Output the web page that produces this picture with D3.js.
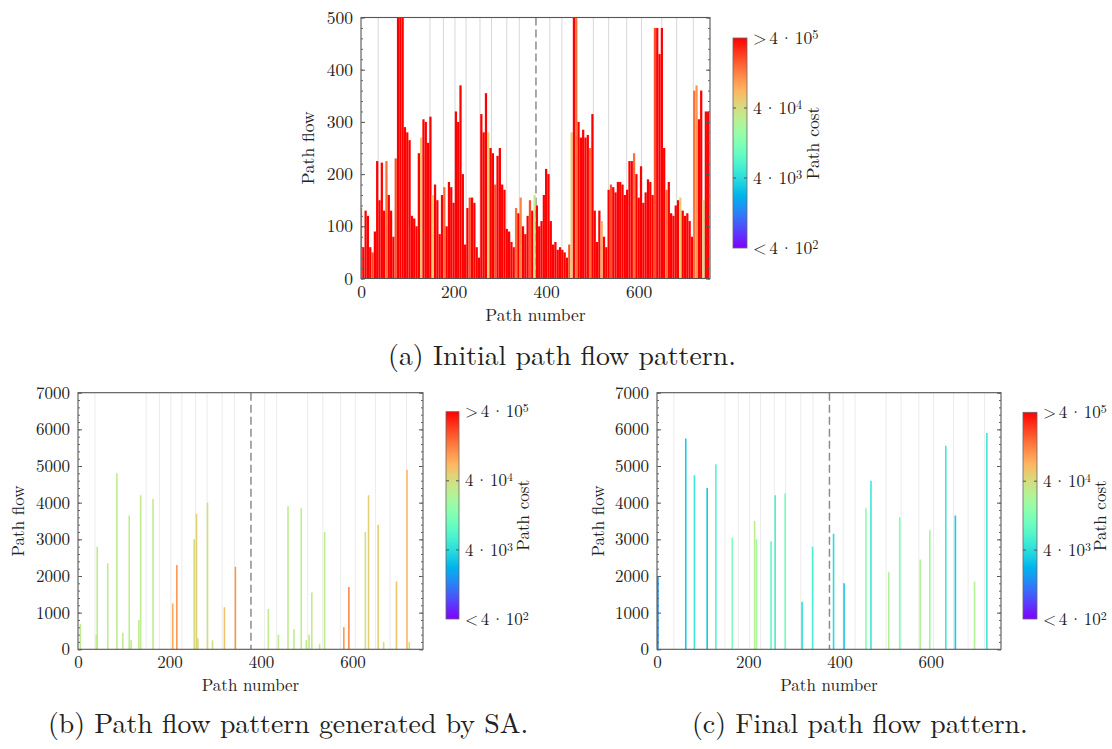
<!DOCTYPE html>
<html><head><meta charset="utf-8">
<script src="https://cdn.jsdelivr.net/npm/d3@7"></script>
<style>
body{margin:0;background:#fff}
svg{display:block}
</style>
</head><body>
<svg id="chart" width="1112" height="749"></svg>
<script>
// ---------------- DATA ----------------
const pathDomain = [0, 754];
const pathTicks = [0, 200, 400, 600];
const gridPaths = [37,149,178,203,227,257,282,315,342,408,434,502,535,574,606,650,682,718];
const splitPath = 378;

// (a) initial pattern: one value per 5-path bin
const binA = 5;
const flowA = [
135,60,130,120,60,50,90,225,150,222,
130,225,160,130,80,230,500,500,500,290,
280,265,120,115,100,240,270,305,300,260,
310,160,180,150,85,160,175,100,185,175,
145,320,300,370,200,65,135,155,155,145,
60,40,315,280,355,280,250,240,180,235,
250,180,170,95,90,70,60,135,125,155,
100,85,120,150,130,160,140,100,110,160,
210,200,110,65,70,55,60,55,50,40,
65,280,500,500,300,270,285,270,275,250,
315,130,70,130,110,80,60,170,180,175,
165,185,185,180,160,170,225,225,240,200,
155,215,145,165,190,185,160,480,480,430,
480,250,170,185,125,120,140,150,155,130,
120,125,110,80,360,370,305,360,150,320,
320
];
const R = 6e5;
const costA = [
1.2e5,R,R,R,R,2e5,R,R,R,R,
R,1.5e5,R,R,R,2e5,R,R,R,R,
R,R,R,R,R,R,6e4,R,R,R,
R,5e4,R,R,R,R,1.5e5,R,R,R,
R,R,R,R,R,R,R,2e5,R,R,
R,R,R,R,R,5e4,R,R,2e5,R,
R,R,R,R,R,R,R,1.5e5,R,1.2e5,
R,R,R,2e5,R,3e4,R,R,R,R,
R,R,R,R,R,R,R,R,R,R,
2e5,5e4,R,1.5e5,R,R,R,R,R,1.5e5,
R,R,R,R,8e4,R,R,R,2e5,R,
R,R,R,R,R,R,R,R,1.5e5,R,
R,R,R,R,R,R,R,2e5,R,R,
R,R,1.5e5,R,R,R,R,R,5e4,R,
R,R,R,R,1.5e5,1e5,R,R,4e4,R,
R
];

// (b) SA pattern
const pathsB = [5,40,42,65,85,98,112,116,133,137,164,207,216,254,259,262,283,294,320,344,416,438,459,472,488,499,505,511,528,539,581,592,628,635,656,668,696,719,724];
const flowB  = [700,400,2800,2350,4800,450,3650,250,800,4200,4100,1250,2300,3000,3700,300,4000,250,1150,2250,1100,400,3900,550,3850,250,400,1550,150,3200,600,1700,3200,4200,3400,200,1850,4900,200];
const costB  = [3e4,3e4,3e4,3e4,3e4,3e4,3e4,3e4,3e4,3e4,3e4,8e4,1e5,4e4,5e4,4e4,4e4,4e4,6e4,1e5,3e4,3e4,3e4,3e4,3e4,3e4,3e4,3e4,3e4,3e4,1e5,1.2e5,4e4,5e4,5e4,4e4,6e4,7e4,4e4];

// (c) final pattern
const pathsC = [2,63,82,110,129,165,214,218,250,259,281,318,341,387,410,458,469,508,532,577,598,633,654,696,723];
const flowC  = [2000,5750,4750,4400,5050,3050,3500,3000,2950,4200,4250,1300,2800,3150,1800,3850,4600,2100,3600,2450,3250,5550,3650,1850,5900];
const costC  = [1.5e3,3e3,5e3,3e3,7e3,1.2e4,3e4,2e4,8e3,6e3,1e4,4e3,6e3,4e3,3e3,1.5e4,5e3,2.5e4,1.2e4,2.5e4,2e4,5e3,3e3,2.5e4,5e3];

const yTicksA = [0,100,200,300,400,500];
const yTicksBC = [0,1000,2000,3000,4000,5000,6000,7000];
const costDomain = [400, 400000];
const costTicks = [400, 4000, 40000, 400000];
const costTickSym = ["<", "", "", ">"];
const costTickExp = ["2", "3", "4", "5"];
const captions = ["(a) Initial path flow pattern.","(b) Path flow pattern generated by SA.","(c) Final path flow pattern."];

// ---------------- HELPERS ----------------
const FONT = '"Latin Modern Roman","CMU Serif","Liberation Serif",serif';
function rainbow(t){
  t = Math.max(0, Math.min(1, t));
  const r = Math.min(1, Math.abs(2*t - 0.5)), g = Math.sin(Math.PI*t), b = Math.cos(Math.PI*t/2);
  return d3.rgb(r*255, g*255, b*255).formatHex();
}
const tScale = d3.scaleLog().domain(costDomain).range([0,1]).clamp(true);
const costColor = c => rainbow(tScale(c));

const svg = d3.select("#chart");
const defs = svg.append("defs");
const grad = defs.append("linearGradient").attr("id","cbgrad").attr("x1",0).attr("y1",1).attr("x2",0).attr("y2",0);
d3.range(0,1.0001,0.05).forEach(t=>grad.append("stop").attr("offset",t).attr("stop-color",rainbow(t)));

function txt(sel, fs){ return sel.style("font-family",FONT).style("font-size",fs+"px").attr("fill","#222"); }

function panel(cfg){
  const g = svg.append("g");
  const x = d3.scaleLinear().domain(pathDomain).range([cfg.x0, cfg.x1]);
  const y = d3.scaleLinear().domain([0, cfg.yMax]).range([cfg.y1, cfg.y0]);
  const clipId = "clip"+cfg.id;
  defs.append("clipPath").attr("id",clipId).append("rect")
    .attr("x",cfg.x0).attr("y",cfg.y0).attr("width",cfg.x1-cfg.x0).attr("height",cfg.y1-cfg.y0);
  const plot = g.append("g").attr("clip-path",`url(#${clipId})`);
  plot.selectAll("line.grid").data(gridPaths).join("line")
    .attr("x1",d=>x(d)).attr("x2",d=>x(d)).attr("y1",cfg.y0).attr("y2",cfg.y1)
    .attr("stroke",cfg.gridColor).attr("stroke-width",1);
  plot.append("line").attr("x1",x(splitPath)).attr("x2",x(splitPath)).attr("y1",cfg.y0).attr("y2",cfg.y1)
    .attr("stroke","#8c8c8c").attr("stroke-width",1.5).attr("stroke-dasharray","8,4");
  cfg.drawBars(plot, x, y);
  g.append("rect").attr("x",cfg.x0).attr("y",cfg.y0).attr("width",cfg.x1-cfg.x0).attr("height",cfg.y1-cfg.y0)
    .attr("fill","none").attr("stroke","#555").attr("stroke-width",1.1);
  // y axes (ticks inward)
  const yl = g.append("g").attr("transform",`translate(${cfg.x0},0)`)
    .call(d3.axisLeft(y).tickValues(cfg.yTicks).tickSizeInner(-4).tickSizeOuter(0).tickPadding(8).tickFormat(d3.format("d")));
  yl.select(".domain").remove();
  yl.selectAll("line").attr("stroke","#555");
  txt(yl.selectAll("text"), cfg.fs);
  const minorVals = d3.range(0, cfg.yMax+0.001, cfg.minor);
  const ylm = g.append("g").attr("transform",`translate(${cfg.x0},0)`)
    .call(d3.axisLeft(y).tickValues(minorVals).tickSize(-2).tickFormat(""));
  ylm.select(".domain").remove(); ylm.selectAll("line").attr("stroke","#666");
  const yr = g.append("g").attr("transform",`translate(${cfg.x1},0)`)
    .call(d3.axisRight(y).tickValues(cfg.yTicks).tickSize(-4).tickFormat(""));
  yr.select(".domain").remove(); yr.selectAll("line").attr("stroke","#555");
  const yrm = g.append("g").attr("transform",`translate(${cfg.x1},0)`)
    .call(d3.axisRight(y).tickValues(minorVals).tickSize(-2).tickFormat(""));
  yrm.select(".domain").remove(); yrm.selectAll("line").attr("stroke","#666");
  // x axis
  const xa = g.append("g").attr("transform",`translate(0,${cfg.y1})`)
    .call(d3.axisBottom(x).tickValues(pathTicks).tickSize(0).tickPadding(7).tickFormat(d3.format("d")));
  xa.select(".domain").remove();
  txt(xa.selectAll("text"), cfg.fs);
  // labels
  txt(g.append("text").attr("x",(cfg.x0+cfg.x1)/2).attr("y",cfg.xlabY).attr("text-anchor","middle"), cfg.fs).text("Path number");
  txt(g.append("text").attr("transform",`translate(${cfg.ylabX},${(cfg.y0+cfg.y1)/2}) rotate(-90)`)
    .attr("text-anchor","middle").attr("dominant-baseline","middle"), cfg.fs).text("Path flow");
  // colorbar
  const cy = d3.scaleLog().domain(costDomain).range([cfg.cb.y1, cfg.cb.y0]);
  g.append("rect").attr("x",cfg.cb.x0).attr("y",cfg.cb.y0).attr("width",cfg.cb.x1-cfg.cb.x0)
    .attr("height",cfg.cb.y1-cfg.cb.y0).attr("fill","url(#cbgrad)").attr("stroke","#666").attr("stroke-width",0.8);
  [4000,40000].forEach(v=>{
    g.append("line").attr("x1",cfg.cb.x0).attr("x2",cfg.cb.x0+3).attr("y1",cy(v)).attr("y2",cy(v)).attr("stroke","#555");
    g.append("line").attr("x1",cfg.cb.x1-3).attr("x2",cfg.cb.x1).attr("y1",cy(v)).attr("y2",cy(v)).attr("stroke","#555");
  });
  const gap = 1.6;
  costTicks.forEach((v,i)=>{
    const t = txt(g.append("text").attr("x",cfg.cb.x1+6).attr("y",cy(v)+cfg.fs*0.33), cfg.fs);
    if (costTickSym[i]) { t.append("tspan").text(costTickSym[i]); t.append("tspan").attr("dx",gap+1).text("4"); }
    else t.append("tspan").text("4");
    t.append("tspan").attr("dx",gap).text("\u00b7");
    t.append("tspan").attr("dx",gap).text("10");
    t.append("tspan").attr("dy","-0.42em").style("font-size",(cfg.fs*0.7)+"px").text(costTickExp[i]);
  });
  txt(g.append("text").attr("transform",`translate(${cfg.cbLabX},${(cfg.cb.y0+cfg.cb.y1)/2}) rotate(-90)`)
    .attr("text-anchor","middle").attr("dominant-baseline","middle"), cfg.fs).text("Path cost");
}

function spikes(paths, flows, costs){
  return (plot, x, y) => {
    plot.selectAll("line.bar").data(paths).join("line")
      .attr("x1",(d)=>x(d)).attr("x2",(d)=>x(d))
      .attr("y1",y(0)).attr("y2",(d,i)=>y(flows[i]))
      .attr("stroke",(d,i)=>costColor(costs[i])).attr("stroke-width",1.6);
  };
}

panel({id:"a", x0:361, x1:710, y0:17.5, y1:278.5, yMax:500, yTicks:yTicksA, minor:20, fs:17.5,
  gridColor:"#d8d8d8",
  xlabY:321, ylabX:310, cb:{x0:733,x1:747,y0:38,y1:248}, cbLabX:815,
  drawBars:(plot,x,y)=>{
    const step = x(binA)-x(0), w = step*0.97;
    plot.selectAll("rect.bar").data(flowA).join("rect")
      .attr("x",(d,i)=>x(i*binA)-w/2).attr("width",w)
      .attr("y",d=>y(d)).attr("height",d=>y(0)-y(d))
      .attr("fill",(d,i)=>costColor(costA[i]));
  }});
panel({id:"b", x0:78, x1:423, y0:392.7, y1:649.3, yMax:7000, yTicks:yTicksBC, minor:200, fs:17,
  gridColor:"#ececec",
  xlabY:691, ylabX:20, cb:{x0:446,x1:459,y0:411.7,y1:619}, cbLabX:525,
  drawBars:spikes(pathsB, flowB, costB)});
panel({id:"c", x0:657, x1:1001, y0:392.7, y1:649.3, yMax:7000, yTicks:yTicksBC, minor:200, fs:17,
  gridColor:"#ececec",
  xlabY:691, ylabX:600, cb:{x0:1023,x1:1037,y0:412.3,y1:619}, cbLabX:1102,
  drawBars:spikes(pathsC, flowC, costC)});

// captions: same size for all, fitted on (a)
const capCfg = [{x:562, anchor:"middle", y:365},{x:48, anchor:"start", y:733},{x:692, anchor:"start", y:733}];
const capT = txt(svg.append("text").attr("x",capCfg[0].x).attr("y",capCfg[0].y).attr("text-anchor","middle"), 24).text(captions[0]);
const capFs = 24*348/capT.node().getComputedTextLength();
capT.style("font-size", capFs+"px");
captions.slice(1).forEach((c,i)=>{
  txt(svg.append("text").attr("x",capCfg[i+1].x).attr("y",capCfg[i+1].y).attr("text-anchor",capCfg[i+1].anchor), capFs).text(c);
});
</script>
</body></html>
